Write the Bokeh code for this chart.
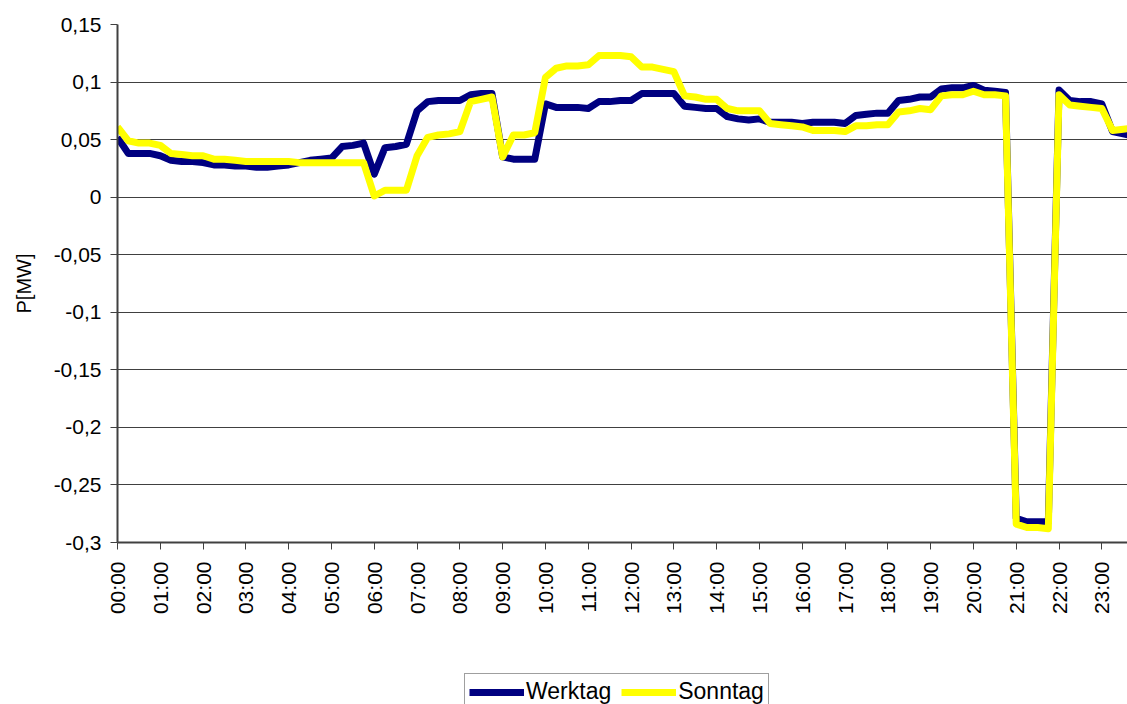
from bokeh.plotting import figure
from bokeh.models import Range1d, FixedTicker, Legend, LegendItem, ColumnDataSource
from bokeh.layouts import column
from bokeh.embed import file_html
from bokeh.resources import INLINE
import math

# quarter-hour index 0..95 (00:00 .. 23:45)
times = ["%02d:%02d" % (h, m) for h in range(24) for m in (0, 15, 30, 45)]

werktag = [
    0.052, 0.038, 0.038, 0.038, 0.036, 0.032, 0.031, 0.031,
    0.030, 0.028, 0.028, 0.027, 0.027, 0.026, 0.026, 0.027,
    0.028, 0.030, 0.032, 0.033, 0.034, 0.044, 0.045, 0.047,
    0.020, 0.043, 0.044, 0.046, 0.075, 0.083, 0.084, 0.084,
    0.084, 0.089, 0.090, 0.090, 0.035, 0.033, 0.033, 0.033,
    0.081, 0.078, 0.078, 0.078, 0.077, 0.083, 0.083, 0.084,
    0.084, 0.090, 0.090, 0.090, 0.090, 0.079, 0.078, 0.077,
    0.077, 0.070, 0.068, 0.067, 0.068, 0.065, 0.065, 0.065,
    0.064, 0.065, 0.065, 0.065, 0.064, 0.071, 0.072, 0.073,
    0.073, 0.084, 0.085, 0.087, 0.087, 0.094, 0.095, 0.095,
    0.097, 0.093, 0.092, 0.091, -0.279, -0.282, -0.282, -0.282,
    0.093, 0.084, 0.083, 0.083, 0.081, 0.057, 0.055, 0.053,
]

sonntag = [
    0.061, 0.049, 0.047, 0.047, 0.045, 0.038, 0.037, 0.036,
    0.036, 0.033, 0.033, 0.032, 0.031, 0.031, 0.031, 0.031,
    0.031, 0.030, 0.030, 0.030, 0.030, 0.030, 0.030, 0.030,
    0.001, 0.006, 0.006, 0.006, 0.036, 0.052, 0.054, 0.055,
    0.057, 0.083, 0.085, 0.087, 0.035, 0.054, 0.054, 0.056,
    0.104, 0.112, 0.114, 0.114, 0.115, 0.123, 0.123, 0.123,
    0.122, 0.113, 0.113, 0.111, 0.109, 0.088, 0.087, 0.085,
    0.085, 0.077, 0.075, 0.075, 0.075, 0.064, 0.063, 0.062,
    0.061, 0.058, 0.058, 0.058, 0.057, 0.062, 0.062, 0.063,
    0.063, 0.074, 0.075, 0.077, 0.076, 0.088, 0.089, 0.089,
    0.092, 0.089, 0.089, 0.088, -0.284, -0.287, -0.287, -0.288,
    0.089, 0.080, 0.079, 0.078, 0.077, 0.058, 0.059, 0.060,
]

x_tick_pos = list(range(0, 96, 4))
x_tick_labels = ["00:00", "01:00", "02:00", "03:00", "04:00", "05:00",
                 "06:00", "07:00", "08:00", "09:00", "10:00", "11:00",
                 "12:00", "13:00", "14:00", "15:00", "16:00", "17:00",
                 "18:00", "19:00", "20:00", "21:00", "22:00", "23:00"]

y_ticks = [-0.3, -0.25, -0.2, -0.15, -0.1, -0.05, 0.0, 0.05, 0.1, 0.15]
y_tick_labels = ["-0,3", "-0,25", "-0,2", "-0,15", "-0,1", "-0,05",
                 "0", "0,05", "0,1", "0,15"]

series_names = ["Werktag", "Sonntag"]
series_colors = ["#000080", "#FFFF00"]

FONT = "Liberation Sans"
LW = 7

src = ColumnDataSource(dict(x=list(range(len(times))), t=times,
                            w=werktag, s=sonntag))

p = figure(width=1127, height=660, output_backend="svg", toolbar_location=None,
           x_range=Range1d(0, 94.4), y_range=Range1d(-0.3, 0.15),
           min_border_left=117, min_border_right=0, min_border_top=24,
           min_border_bottom=118)

p.outline_line_color = None
p.background_fill_color = "white"
p.border_fill_color = "white"

r1 = p.line("x", "w", source=src, line_color=series_colors[0], line_width=LW,
            line_join="round")
r2 = p.line("x", "s", source=src, line_color=series_colors[1], line_width=LW,
            line_join="round")

# x axis
p.xaxis.ticker = FixedTicker(ticks=x_tick_pos)
p.xaxis.major_label_overrides = {k: v for k, v in zip(x_tick_pos, x_tick_labels)}
p.xaxis.major_label_orientation = math.pi / 2
p.xaxis.minor_tick_line_color = None
p.xaxis.major_tick_in = 0
p.xaxis.major_tick_out = 7
p.xaxis.axis_line_color = "#404040"
p.xaxis.axis_line_width = 2
p.xaxis.major_tick_line_color = "#404040"
p.xaxis.major_label_text_font = FONT
p.xaxis.major_label_text_font_size = "21px"
p.xaxis.major_label_text_color = "black"
p.xaxis.major_label_standoff = 12

# y axis
p.yaxis.ticker = FixedTicker(ticks=y_ticks)
p.yaxis.major_label_overrides = {k: v for k, v in zip(y_ticks, y_tick_labels)}
p.yaxis.minor_tick_line_color = None
p.yaxis.major_tick_in = 0
p.yaxis.major_tick_out = 7
p.yaxis.axis_line_color = "#404040"
p.yaxis.axis_line_width = 2
p.yaxis.major_tick_line_color = "#404040"
p.yaxis.major_label_text_font = FONT
p.yaxis.major_label_text_font_size = "21px"
p.yaxis.major_label_text_color = "black"
p.yaxis.major_label_standoff = 9
p.yaxis.axis_label = "P[MW]"
p.yaxis.axis_label_text_font = FONT
p.yaxis.axis_label_text_font_size = "20px"
p.yaxis.axis_label_text_font_style = "normal"
p.yaxis.axis_label_text_color = "black"
p.yaxis.axis_label_standoff = 16

p.xgrid.grid_line_color = None
p.ygrid.grid_line_color = "#404040"
p.ygrid.grid_line_width = 1

# legend strip below the chart (proxy lines lie outside its visible range)
lg = figure(width=1127, height=44, output_backend="svg", toolbar_location=None,
            x_range=Range1d(0, 1), y_range=Range1d(0, 1),
            x_axis_location=None, y_axis_location=None, min_border=0)
lg.outline_line_color = None
lg.xgrid.grid_line_color = None
lg.ygrid.grid_line_color = None
lw_r = lg.line(x=[-10, -9], y=[-10, -10], line_color=series_colors[0], line_width=LW)
ls_r = lg.line(x=[-10, -9], y=[-10, -10], line_color=series_colors[1], line_width=LW)

legend = Legend(items=[LegendItem(label=series_names[0], renderers=[lw_r]),
                       LegendItem(label=series_names[1], renderers=[ls_r])],
                orientation="horizontal", location=(347, -6))
legend.label_text_font = FONT
legend.label_text_font_size = "23px"
legend.label_text_color = "black"
legend.glyph_width = 55
legend.glyph_height = 20
legend.label_standoff = 2
legend.spacing = 10
legend.padding = 4
legend.margin = 0
legend.border_line_color = "#404040"
legend.border_line_width = 1
legend.background_fill_alpha = 1
lg.add_layout(legend, "center")

layout = column(p, lg, spacing=0)
open("out.html", "w").write(file_html(layout, INLINE))
